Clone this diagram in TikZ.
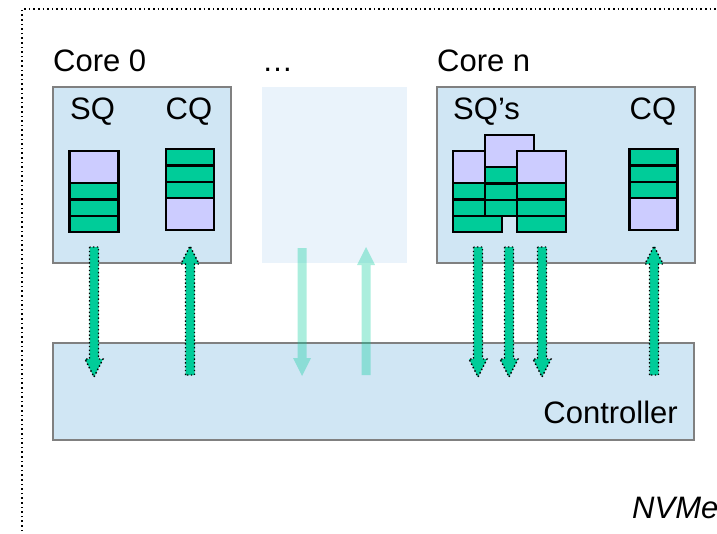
\documentclass[tikz,border=0pt]{standalone}
\usepackage{fontspec}
\setmainfont{Liberation Sans}
\usetikzlibrary{calc}

\definecolor{corefill}{HTML}{D0E6F4}
\definecolor{fadefill}{HTML}{EAF3FB}
\definecolor{boxline}{HTML}{808080}
\definecolor{qgreen}{HTML}{00CC99}
\definecolor{qlav}{HTML}{CCCCFF}

\tikzset{
  corebox/.style={draw=boxline, line width=2pt, fill=corefill, inner sep=0pt},
  cell/.style={draw=black, line width=2.4pt},
  entry/.style={cell, fill=qgreen},
  slot/.style={cell, fill=qlav},
  lbl/.style={inner sep=0pt, anchor=base west, font=\fontsize{31}{37}\selectfont},
  flow/.style={fill=qgreen, draw=black, line width=1.4pt, dash pattern=on 1.4pt off 2.4pt},
  ghost/.style={fill=qgreen, fill opacity=0.33},
}

% submission queue: free slot on top, three entries below
\newcommand\sqstack[2]{%
  \draw[slot] (#1,#2) rectangle ++(49,32);
  \foreach \k in {0,1,2}
    \draw[entry] (#1,#2+32+\k*16.4) rectangle ++(49,16.4);
}
% completion queue: three entries on top, free slot below
\newcommand\cqstack[2]{%
  \foreach \k in {0,1,2}
    \draw[entry] (#1,#2+\k*16.4) rectangle ++(48,16.4);
  \draw[slot] (#1,#2+49.2) rectangle ++(48,32);
}
% fat arrow from #2 to #3
\newcommand\qarrow[3][flow]{%
  \path[#1] ($(#2)+(-4.5,0)$) -- ($(#3)!18pt!(#2)+(-4.5,0)$)
    -- ($(#3)!18pt!(#2)+(-9,0)$) -- (#3) -- ($(#3)!18pt!(#2)+(9,0)$)
    -- ($(#3)!18pt!(#2)+(4.5,0)$) -- ($(#2)+(4.5,0)$) -- cycle;
}

\begin{document}
\begin{tikzpicture}[x=1pt,y=-1pt]

\useasboundingbox (0,0) rectangle (717,533);
\draw[line width=1.6pt, dash pattern=on 1.6pt off 3pt] (22,545) -- (22,9) -- (730,9);

% cores and controller
\node[corebox, minimum width=178pt, minimum height=176pt] (core0) at (142,175) {};
\node[fill=fadefill, inner sep=0pt, minimum width=145pt, minimum height=176pt] (cored) at (334.5,175) {};
\node[corebox, minimum width=258pt, minimum height=176pt] (coren) at (566,175) {};
\node[corebox, minimum width=641pt, minimum height=97pt] (ctrl) at (373.5,391.5) {};

\node[lbl] (core0-lbl) at (53,71) {Core 0};
\node[lbl] (cored-lbl) at (262,71) {…};
\node[lbl] (coren-lbl) at (437,71) {Core n};
\node[lbl] (sq0-lbl) at (70,119) {SQ};
\node[lbl] (cq0-lbl) at (165.5,119) {CQ};
\node[lbl] (sqn-lbl) at (453,119) {SQ’s};
\node[lbl] (cqn-lbl) at (629.5,119) {CQ};
\node[lbl, anchor=base east] (ctrl-lbl) at (678,423) {Controller};
\node[lbl, font=\fontsize{31}{37}\selectfont\itshape] (nvme-lbl) at (632,518) {NVMe};

% queues
\sqstack{69.5}{151}
\cqstack{166}{149}
\sqstack{453}{151}
\sqstack{485}{135}
\sqstack{517}{151}
\cqstack{629.5}{149}

% doorbells / fetches
\coordinate (sq0-a) at (94,247);   \coordinate (sq0-b) at (94,377);
\coordinate (cq0-a) at (190,375);  \coordinate (cq0-b) at (190,246);
\coordinate (sqd-a) at (302,248);  \coordinate (sqd-b) at (302,376);
\coordinate (cqd-a) at (366,375);  \coordinate (cqd-b) at (366,247);
\coordinate (cqn-a) at (654,375);  \coordinate (cqn-b) at (654,246);
\qarrow{sq0-a}{sq0-b}
\qarrow{cq0-a}{cq0-b}
\qarrow[ghost]{sqd-a}{sqd-b}
\qarrow[ghost]{cqd-a}{cqd-b}
\foreach \x [count=\i] in {478,509,542}{
  \coordinate (sqn\i-a) at (\x,247);
  \coordinate (sqn\i-b) at (\x,377);
  \qarrow{sqn\i-a}{sqn\i-b}
}
\qarrow{cqn-a}{cqn-b}

\end{tikzpicture}
\end{document}
